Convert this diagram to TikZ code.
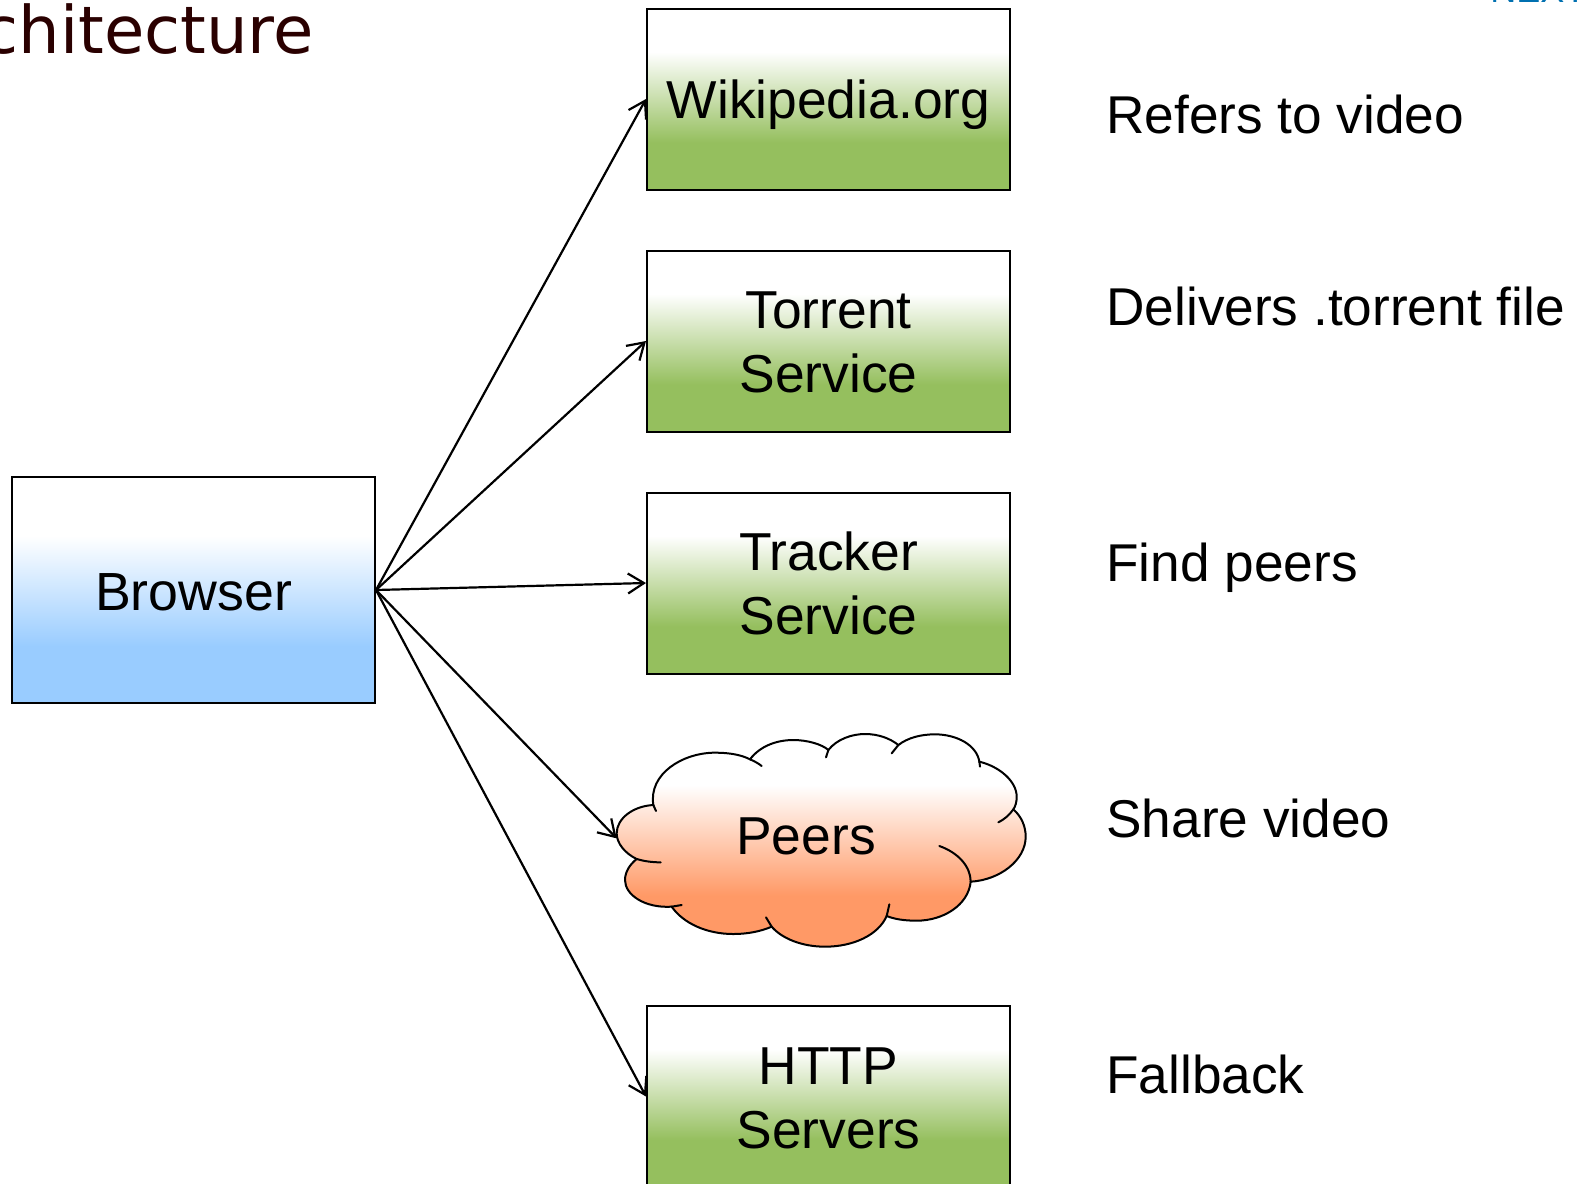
\documentclass[tikz,border=0pt]{standalone}
\usepackage{fontspec}
\setmainfont{Liberation Sans}
\newfontfamily\titlefont{DejaVu Sans}
\usetikzlibrary{arrows.meta}
\definecolor{boxgreen}{HTML}{95BF5E}
\definecolor{boxblue}{HTML}{99CCFF}
\definecolor{cloudorange}{HTML}{FF9966}
\definecolor{titlecol}{HTML}{2A0000}
\definecolor{nextblue}{HTML}{0070B0}
\pgfdeclareverticalshading{greenshade}{100bp}{color(0bp)=(boxgreen); color(38bp)=(boxgreen); color(63bp)=(white); color(100bp)=(white)}
\pgfdeclareverticalshading{blueshade}{100bp}{color(0bp)=(boxblue); color(37.5bp)=(boxblue); color(62bp)=(white); color(100bp)=(white)}
\pgfdeclareverticalshading{orangeshade}{100bp}{color(0bp)=(cloudorange); color(37bp)=(cloudorange); color(63bp)=(white); color(100bp)=(white)}
% #1 = how far the text sits below the centre of its box
\newcommand\boxtext[2]{\raisebox{0pt}[\dimexpr\height+#1*2\relax][\depth]{\parbox[c]{170pt}{\centering #2}}}
\tikzset{
  x=0.5pt,y=-0.5pt,
  lbl/.style={font=\fontsize{26.7pt}{32.2pt}\selectfont,inner sep=0pt,align=center},
  note/.style={font=\fontsize{26.6pt}{32.2pt}\selectfont,inner sep=0pt,anchor=base west},
  svcbox/.style={lbl,draw=black,line width=1pt,shading=greenshade,minimum width=181.5pt,minimum height=90.5pt},
  link/.style={draw=black,line width=1.1pt,-{Straight Barb[length=8pt,width=10pt,line width=1.1pt]}},
}
\begin{document}
\begin{tikzpicture}
\clip (0,0) rectangle (1577,1183);
\fill[white] (0,0) rectangle (1577,1183);
\node[anchor=base east,font=\titlefont\fontsize{32.8pt}{40pt}\selectfont,text=titlecol,inner sep=0pt] (title) at (314,53) {Architecture};
\node[anchor=base west,font=\fontsize{18pt}{22pt}\selectfont,text=nextblue,inner sep=0pt] (next) at (1490,3) {NEXT};
\node[lbl,font=\fontsize{26.85pt}{32.2pt}\selectfont,draw=black,line width=1pt,shading=blueshade,minimum width=181.5pt,minimum height=113pt] (browser) at (193.5,590) {\raisebox{0pt}[\dimexpr\height+2pt\relax][\depth]{Browser}};
\node[svcbox] (wiki) at (828.5,99) {\boxtext{3pt}{Wikipedia.org}};
\node[svcbox] (torrent) at (828.5,341) {\boxtext{0.75pt}{Torrent\\Service}};
\node[svcbox] (tracker) at (828.5,583) {\boxtext{0.25pt}{Tracker\\Service}};
\node[svcbox] (http) at (828.5,1096.5) {\boxtext{1pt}{HTTP\\Servers}};
\begin{scope}[shift={(590,710)},x=0.16667pt,y=-0.16667pt]
  \shade[draw=black,line width=1pt,shading=orangeshade]
    (190,285) .. controls (175,190) and (280,128) .. (375,128)
    .. controls (420,128) and (455,135) .. (480,148)
    .. controls (510,108) and (560,90) .. (610,90)
    .. controls (650,90) and (695,102) .. (715,120)
    .. controls (740,88) and (785,72) .. (825,72)
    .. controls (865,72) and (900,85) .. (925,105)
    .. controls (955,82) and (995,73) .. (1035,73)
    .. controls (1100,73) and (1160,105) .. (1168,155)
    .. controls (1230,170) and (1280,215) .. (1280,260)
    .. controls (1280,275) and (1277,288) .. (1270,298)
    .. controls (1295,320) and (1307,350) .. (1307,380)
    .. controls (1307,450) and (1230,510) .. (1142,515)
    .. controls (1135,585) and (1060,632) .. (980,632)
    .. controls (945,632) and (915,628) .. (890,618)
    .. controls (865,675) and (790,710) .. (705,710)
    .. controls (635,710) and (575,685) .. (545,650)
    .. controls (510,665) and (470,672) .. (430,672)
    .. controls (350,672) and (280,640) .. (245,590)
    .. controls (165,595) and (105,555) .. (105,510)
    .. controls (105,485) and (120,463) .. (140,447)
    .. controls (105,430) and (80,400) .. (80,370)
    .. controls (80,325) and (130,288) .. (190,285) -- cycle;
  \draw[black,line width=1pt,line cap=round]
    (480,148) .. controls (492,153) and (505,160) .. (515,168)
    (715,120) -- (708,142)
    (925,105) -- (905,130)
    (1168,155) -- (1170,170)
    (1270,298) .. controls (1258,315) and (1243,328) .. (1225,337)
    (1048,408) .. controls (1105,428) and (1142,470) .. (1142,515)
    (898,583) -- (890,618)
    (545,650) -- (528,622)
    (245,590) -- (275,585)
    (140,447) .. controls (160,453) and (185,457) .. (212,457)
    (190,285) -- (198,303);
  \coordinate (cloudin) at (80,385);
\end{scope}
\node[lbl] (peers) at (806,836.5) {Peers};
\node[note] (n1) at (1106,133.5) {Refers to video};
\node[note] (n2) at (1106,325.5) {Delivers .torrent file};
\node[note] (n3) at (1106,581.5) {Find peers};
\node[note] (n4) at (1106,837) {Share video};
\node[note] (n5) at (1106,1093.5) {Fallback};
\draw[link] (browser.east) -- (wiki.west);
\draw[link] (browser.east) -- (torrent.west);
\draw[link] (browser.east) -- (tracker.west);
\draw[link] (browser.east) -- (cloudin);
\draw[link] (browser.east) -- (http.west);
\end{tikzpicture}
\end{document}
